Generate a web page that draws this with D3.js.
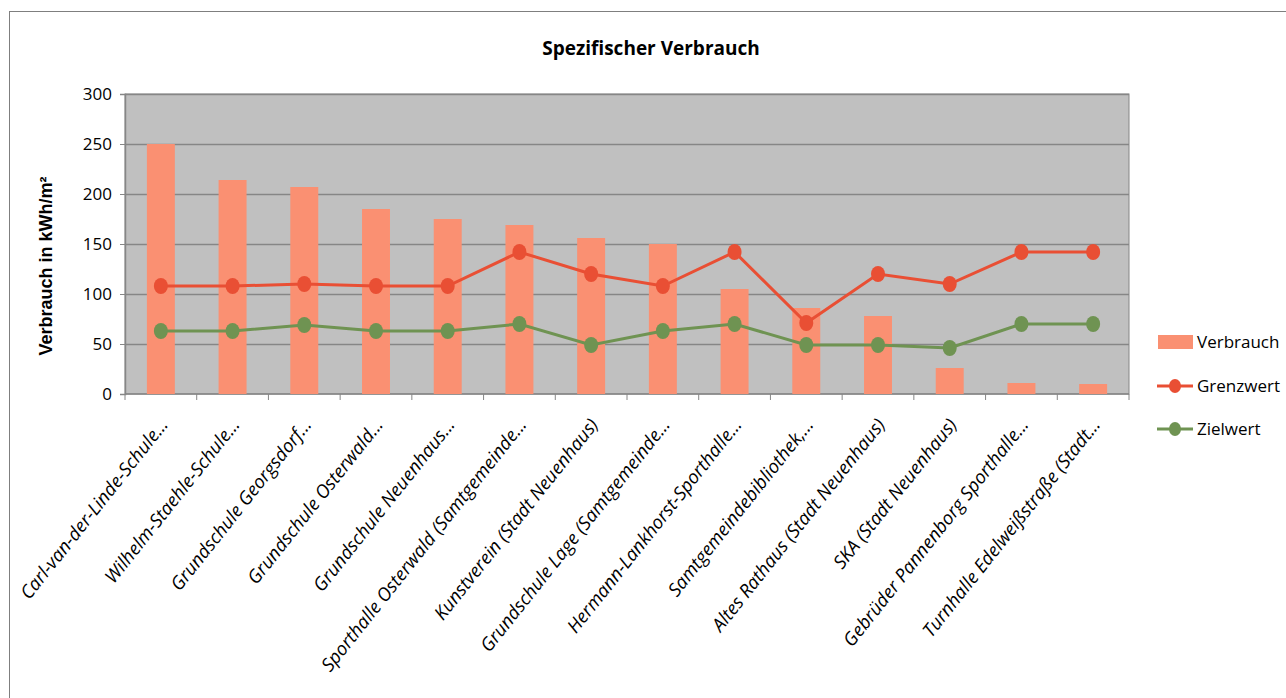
<!DOCTYPE html>
<html>
<head>
<meta charset="utf-8">
<script src="https://cdn.jsdelivr.net/npm/d3@7"></script>
<style>
	body { margin: 0; background: #fff; }
	svg { display: block; font-family: 'Open Sans', sans-serif; }
</style>
</head>
<body>
<div id="app"></div>
<script>

const categories = [
	'Carl-van-der-Linde-Schule...',
	'Wilhelm-Staehle-Schule...',
	'Grundschule Georgsdorf...',
	'Grundschule Osterwald...',
	'Grundschule Neuenhaus...',
	'Sporthalle Osterwald (Samtgemeinde...',
	'Kunstverein (Stadt Neuenhaus)',
	'Grundschule Lage (Samtgemeinde...',
	'Hermann-Lankhorst-Sporthalle...',
	'Samtgemeindebibliothek,...',
	'Altes Rathaus (Stadt Neuenhaus)',
	'SKA (Stadt Neuenhaus)',
	'Gebrüder Pannenborg Sporthalle...',
	'Turnhalle Edelweißstraße (Stadt...'
];
const verbrauch = [250, 214, 207, 185, 175, 169, 156, 150, 105, 86, 78, 26, 11, 10];
const grenzwert = [108, 108, 110, 108, 108, 142, 120, 108, 142, 71, 120, 110, 142, 142];
const zielwert = [63, 63, 69, 63, 63, 70, 49, 63, 70, 49, 49, 46, 70, 70];
const yTicks = [0, 50, 100, 150, 200, 250, 300];

const width = 1286, height = 698;
const plot = { left: 125, right: 1129, top: 94, bottom: 394 };

const svg = d3.select('#app').append('svg')
	.attr('width', width)
	.attr('height', height);

// outer chart frame
svg.append('rect')
	.attr('x', 9.5).attr('y', 11.5)
	.attr('width', 1290).attr('height', 700)
	.attr('fill', '#fff')
	.attr('stroke', '#7f7f7f');

svg.append('text')
	.attr('x', 651).attr('y', 55)
	.attr('text-anchor', 'middle')
	.attr('font-size', 19)
	.attr('font-weight', 'bold')
	.attr('fill', '#000')
	.text('Spezifischer Verbrauch');

const x = d3.scaleBand()
	.domain(categories)
	.range([plot.left, plot.right]);

const y = d3.scaleLinear()
	.domain([0, 300])
	.range([plot.bottom, plot.top]);

svg.append('rect')
	.attr('x', plot.left).attr('y', plot.top)
	.attr('width', plot.right - plot.left)
	.attr('height', plot.bottom - plot.top)
	.attr('fill', '#c0c0c0')
	.attr('stroke', '#868686');

// gridlines
svg.append('g').selectAll('line')
	.data(yTicks.slice(1))
	.join('line')
	.attr('x1', plot.left).attr('x2', plot.right)
	.attr('y1', d => y(d) + 0.5).attr('y2', d => y(d) + 0.5)
	.attr('stroke', '#868686')
	.attr('stroke-width', 1.5);

// y axis
const yAxis = d3.axisLeft(y)
	.tickValues(yTicks)
	.tickSize(5)
	.tickPadding(8);
svg.append('g')
	.attr('transform', `translate(${plot.left},0)`)
	.call(yAxis)
	.call(g => g.select('.domain').attr('stroke', '#868686').attr('stroke-width', 1.5))
	.call(g => g.selectAll('.tick line').attr('stroke', '#868686'))
	.call(g => g.selectAll('.tick text')
		.attr('font-family', "'Open Sans', sans-serif")
		.attr('font-size', 17)
		.attr('fill', '#000'));

svg.append('text')
	.attr('transform', 'translate(52,266) rotate(-90)')
	.attr('text-anchor', 'middle')
	.attr('font-family', "'Liberation Sans', Arial, sans-serif")
	.attr('font-size', 18)
	.attr('font-weight', 'bold')
	.text('Verbrauch in kWh/m²');

// x axis ticks at band boundaries
const bounds = categories.map(c => x(c)).concat([plot.right]);
svg.append('g').selectAll('line')
	.data(bounds)
	.join('line')
	.attr('x1', d => d).attr('x2', d => d)
	.attr('y1', plot.bottom).attr('y2', plot.bottom + 6)
	.attr('stroke', '#868686');
svg.append('line')
	.attr('x1', plot.left).attr('x2', plot.right)
	.attr('y1', plot.bottom).attr('y2', plot.bottom)
	.attr('stroke', '#868686').attr('stroke-width', 1.5);

// x labels
svg.append('g').selectAll('text')
	.data(categories)
	.join('text')
	.attr('transform', d => `translate(${x(d) + x.bandwidth() / 2 + 8},${plot.bottom + 31}) rotate(-51.5)`)
	.attr('text-anchor', 'end')
	.attr('font-size', 18.5)
	.attr('font-style', 'italic')
	.attr('fill', '#000')
	.text(d => d);

// bars
const barW = x.bandwidth() * 0.39;
svg.append('g').selectAll('rect')
	.data(verbrauch)
	.join('rect')
	.attr('x', (d, i) => x(categories[i]) + (x.bandwidth() - barW) / 2)
	.attr('y', d => y(d))
	.attr('width', barW)
	.attr('height', d => y(0) - y(d))
	.attr('fill', '#fa9072');

const cx = i => x(categories[i]) + x.bandwidth() / 2;
const line = d3.line().x((d, i) => cx(i)).y(d => y(d));

const series = [
	{ name: 'Grenzwert', values: grenzwert, color: '#e94f34' },
	{ name: 'Zielwert', values: zielwert, color: '#6f9352' }
];

series.forEach(s => {
	svg.append('path')
		.datum(s.values)
		.attr('d', line)
		.attr('fill', 'none')
		.attr('stroke', s.color)
		.attr('stroke-width', 3);
	svg.append('g').selectAll('ellipse')
		.data(s.values)
		.join('ellipse')
		.attr('cx', (d, i) => cx(i))
		.attr('cy', d => y(d))
		.attr('rx', 7)
		.attr('ry', 8)
		.attr('fill', s.color);
});

// legend
const legend = svg.append('g').attr('font-size', 17);
legend.append('rect')
	.attr('x', 1158).attr('y', 335)
	.attr('width', 35).attr('height', 14)
	.attr('fill', '#fa9072');
legend.append('text').attr('x', 1197).attr('y', 348).text('Verbrauch');
series.forEach((s, i) => {
	const ly = 386 + i * 43;
	legend.append('line')
		.attr('x1', 1157).attr('x2', 1193)
		.attr('y1', ly).attr('y2', ly)
		.attr('stroke', s.color).attr('stroke-width', 3);
	legend.append('ellipse')
		.attr('cx', 1175).attr('cy', ly)
		.attr('rx', 6).attr('ry', 7)
		.attr('fill', s.color);
	legend.append('text').attr('x', 1197).attr('y', ly + 6).text(s.name);
});

</script>
</body>
</html>
